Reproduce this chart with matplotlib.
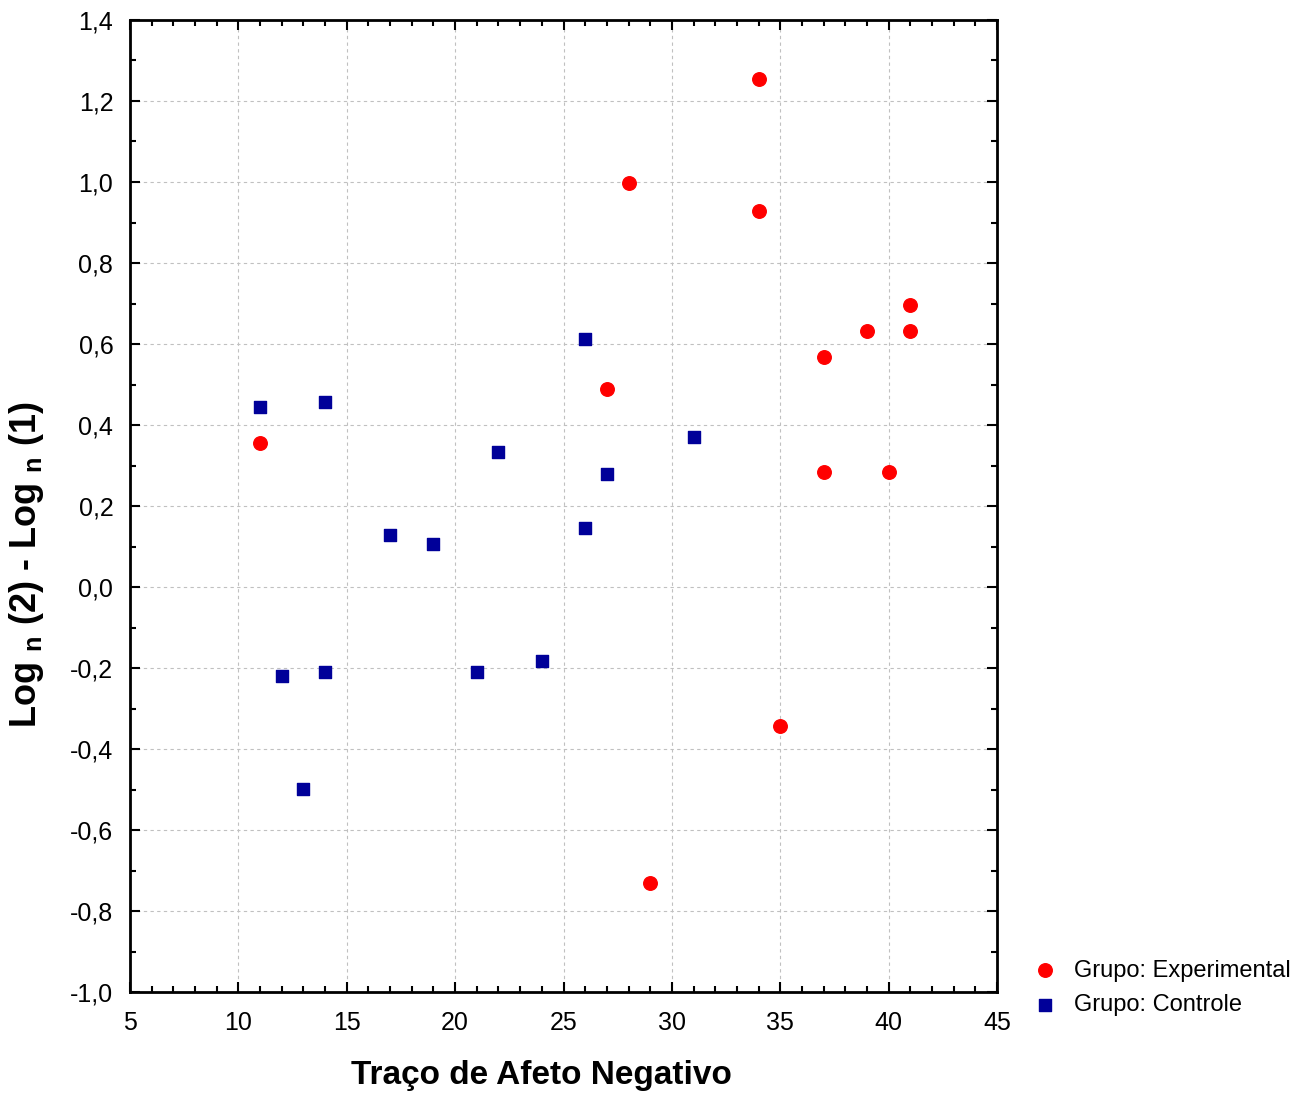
import matplotlib
matplotlib.use("Agg")
import matplotlib.pyplot as plt
from matplotlib.ticker import MultipleLocator, FuncFormatter

plt.rcParams['font.family'] = ['Liberation Sans', 'DejaVu Sans']
plt.rcParams['mathtext.fontset'] = 'custom'
plt.rcParams['mathtext.rm'] = 'Liberation Sans'
plt.rcParams['mathtext.bf'] = 'Liberation Sans:bold'

exp_x = [11, 27, 28, 29, 34, 34, 35, 37, 37, 39, 40, 41, 41]
exp_y = [0.356, 0.489, 0.998, -0.731, 1.254, 0.928, -0.343, 0.568, 0.284, 0.632, 0.284, 0.696, 0.632]

ctl_x = [11, 12, 13, 14, 14, 17, 19, 21, 22, 24, 26, 26, 27, 31]
ctl_y = [0.444, -0.220, -0.499, 0.457, -0.210, 0.128, 0.106, -0.210, 0.333, -0.183, 0.612, 0.146, 0.279, 0.370]

fig = plt.figure(figsize=(13.08, 10.97), dpi=100)
ax = fig.add_axes([130/1308, 105/1097, 867/1308, 972/1097])

ax.scatter(exp_x, exp_y, marker='o', s=95, color='#ff0000', edgecolors='#ff0000', zorder=3,
           label='Grupo: Experimental')
ax.scatter(ctl_x, ctl_y, marker='s', s=85, color='#000099', edgecolors='#000099', zorder=3,
           label='Grupo: Controle')

ax.set_xlim(5, 45)
ax.set_ylim(-1.0, 1.4)
ax.xaxis.set_major_locator(MultipleLocator(5))
ax.xaxis.set_minor_locator(MultipleLocator(1))
ax.yaxis.set_major_locator(MultipleLocator(0.2))
ax.yaxis.set_minor_locator(MultipleLocator(0.1))
ax.yaxis.set_major_formatter(FuncFormatter(lambda v, p: ('%.1f' % v).replace('.', ',').replace('-0,0', '0,0')))

ax.tick_params(which='both', direction='in', top=True, right=True, labelsize=18, width=1.5)
ax.tick_params(which='major', length=7)
ax.tick_params(which='minor', length=4)
ax.tick_params(axis='x', pad=14)
ax.tick_params(axis='y', pad=12)
for s in ax.spines.values():
    s.set_linewidth(2)

ax.grid(True, which='major', linestyle=(0, (3, 3)), color='#c0c0c0', linewidth=0.8)
ax.set_axisbelow(True)

ax.set_xlabel('Traço de Afeto Negativo', fontsize=24, fontweight='bold')
ax.xaxis.set_label_coords(0.474, -0.070)
ax.set_ylabel(r'Log $_{\mathbf{n}}$ (2) - Log $_{\mathbf{n}}$ (1)', fontsize=26, fontweight='bold')
ax.yaxis.set_label_coords(-0.097, 0.44)

fig.legend(loc='center left', bbox_to_anchor=(1033/1308, (1097 - 988)/1097), frameon=False, fontsize=17,
           handlelength=1.0, handletextpad=0.75, labelspacing=0.55, borderaxespad=0, borderpad=0)

fig.savefig('out.png', dpi=100)
